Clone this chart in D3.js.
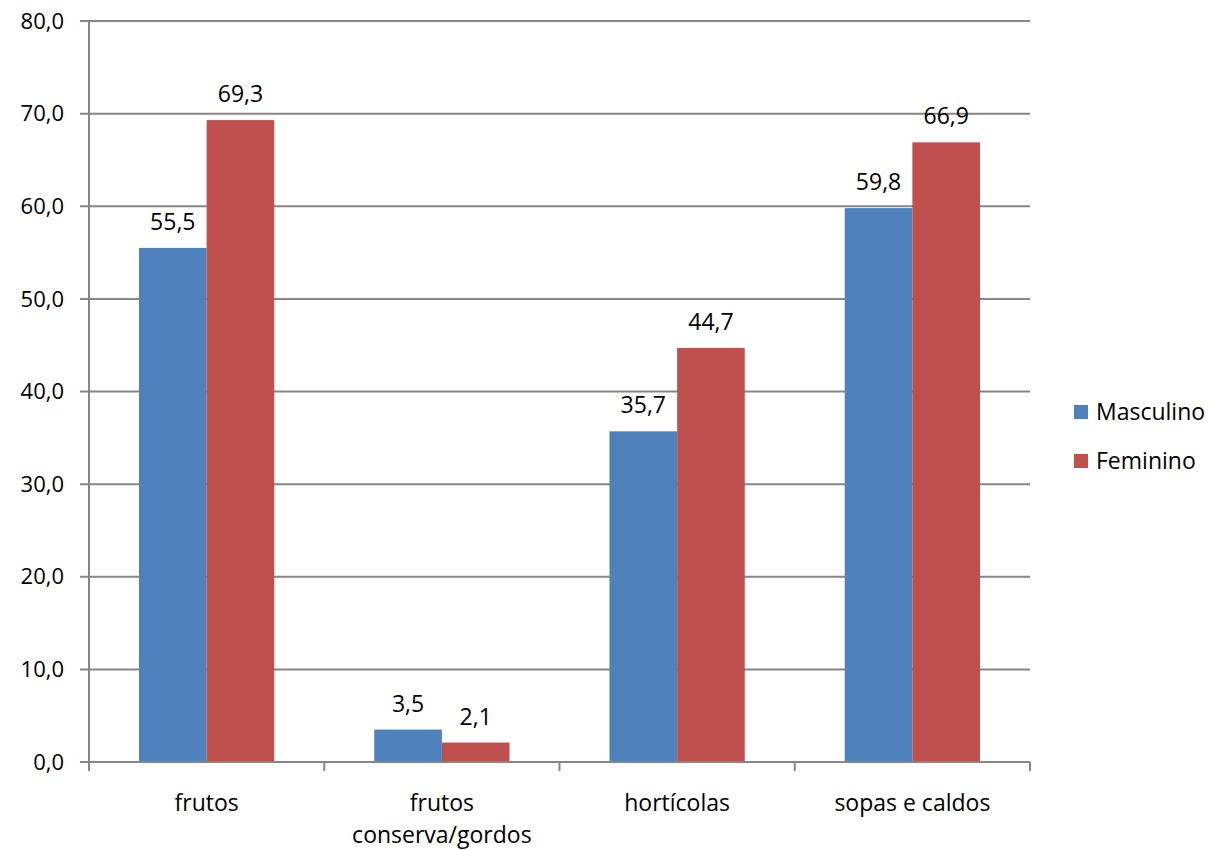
<!DOCTYPE html>
<html><head><meta charset="utf-8">
<script src="https://cdn.jsdelivr.net/npm/d3@7"></script>
<style>body{margin:0;background:#fff}svg{display:block;font-family:"Open Sans",sans-serif}</style>
</head><body><svg id="c" width="1211" height="850"></svg>
<script>
const categories = [["frutos"], ["frutos", "conserva/gordos"], ["hortícolas"], ["sopas e caldos"]];
const seriesNames = ["Masculino", "Feminino"];
const masculino = [55.5, 3.5, 35.7, 59.8];
const feminino = [69.3, 2.1, 44.7, 66.9];
const yTicks = [0, 10, 20, 30, 40, 50, 60, 70, 80];
const colors = ["#4F81BD", "#C0504D"];

const svg = d3.select("#c");
const L = 89, R = 1030, T = 21, B = 762;
const keys = categories.map((c, i) => i);
const x = d3.scaleBand().domain(keys).range([L, R]).paddingInner(0.425).paddingOuter(0.2125);
const xs = d3.scaleBand().domain([0, 1]).range([0, x.bandwidth()]);
const y = d3.scaleLinear().domain([0, 80]).range([B, T]);
const fmt = v => v.toFixed(1).replace(".", ",");
const grid = "#868686";

// gridlines
svg.append("g").selectAll("line").data(yTicks).join("line")
  .attr("x1", L - 9).attr("x2", R).attr("y1", d => y(d)).attr("y2", d => y(d))
  .attr("stroke", grid).attr("stroke-width", 2);

// bars
const series = [masculino, feminino];
series.forEach((vals, s) => {
  svg.append("g").selectAll("rect").data(vals).join("rect")
    .attr("x", (d, i) => x(i) + xs(s)).attr("width", xs.bandwidth())
    .attr("y", d => y(d)).attr("height", d => y(0) - y(d))
    .attr("fill", colors[s]);
  svg.append("g").selectAll("text").data(vals).join("text")
    .attr("x", (d, i) => x(i) + xs(s) + xs.bandwidth() / 2)
    .attr("y", d => y(d) - 26).attr("dy", "0.35em")
    .attr("text-anchor", "middle").attr("font-size", 23).attr("fill", "#000")
    .text(fmt);
});

// y axis
svg.append("line").attr("x1", L).attr("x2", L).attr("y1", T).attr("y2", B)
  .attr("stroke", grid).attr("stroke-width", 2);
svg.append("g").selectAll("text").data(yTicks).join("text")
  .attr("x", 64).attr("y", d => y(d)).attr("dy", "0.35em")
  .attr("text-anchor", "end").attr("font-size", 22).text(fmt);

// x axis
svg.append("line").attr("x1", L).attr("x2", R).attr("y1", B).attr("y2", B)
  .attr("stroke", grid).attr("stroke-width", 2);
const step = (R - L) / categories.length;
const bounds = d3.range(categories.length + 1).map(i => L + i * step);
svg.append("g").selectAll("line").data(bounds).join("line")
  .attr("x1", d => d).attr("x2", d => d).attr("y1", B).attr("y2", B + 9)
  .attr("stroke", grid).attr("stroke-width", 2);
const cl = svg.append("g").selectAll("text").data(keys).join("text")
  .attr("x", d => x(d) + x.bandwidth() / 2).attr("y", 803)
  .attr("text-anchor", "middle").attr("font-size", 23);
cl.each(function(d) {
  const t = d3.select(this);
  categories[d].forEach((line, j) => {
    t.append("tspan").attr("x", x(d) + x.bandwidth() / 2).attr("dy", j === 0 ? "0.35em" : 32).text(line);
  });
});

// legend
const lg = svg.append("g").attr("transform", "translate(1074,412)");
seriesNames.forEach((n, i) => {
  lg.append("rect").attr("x", 0).attr("y", i * 49 - 7).attr("width", 14).attr("height", 14).attr("fill", colors[i]);
  lg.append("text").attr("x", 22).attr("y", i * 49).attr("dy", "0.35em").attr("font-size", 23).text(n);
});
</script></body></html>
